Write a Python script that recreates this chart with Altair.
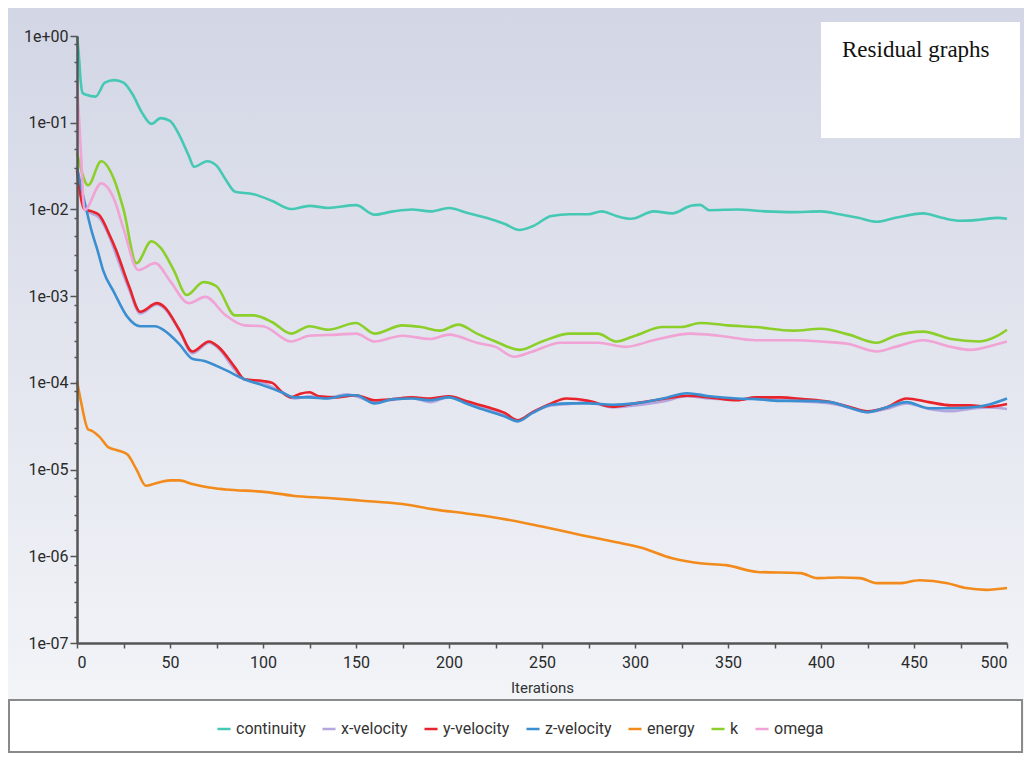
import altair as alt
import pandas as pd

# ---------------- data ----------------
series_names = ["continuity", "x-velocity", "y-velocity", "z-velocity", "energy", "k", "omega"]
series_colors = ["#45c8b4", "#b4a7e0", "#e8232b", "#3b8fd1", "#f28b1b", "#8ccf2a", "#f0a3d4"]

cont_it = [0, 1, 2, 3, 5, 10, 15, 20, 25, 30, 35, 40, 45, 50, 55, 60, 63, 70, 75, 80, 85, 95, 105, 115, 125,
           135, 150, 160, 170, 180, 190, 200, 210, 220, 230, 238, 245, 255, 265, 275, 282, 290, 298, 310, 320,
           330, 335, 340, 355, 370, 385, 400, 410, 420, 430, 440, 455, 465, 475, 485, 495, 500]
cont_v = [1.0, 0.6, 0.3, 0.22, 0.21, 0.2, 0.29, 0.31, 0.29, 0.21, 0.13, 0.097, 0.113, 0.105, 0.072,
          0.042, 0.031, 0.036, 0.032, 0.022, 0.016, 0.015, 0.0125, 0.0101, 0.011,
          0.0104, 0.0112, 0.0087, 0.0095, 0.010, 0.0095, 0.0104, 0.0091, 0.0080, 0.0068,
          0.0058, 0.0064, 0.0084, 0.0088, 0.0088, 0.0095, 0.0084, 0.0078, 0.0095, 0.0090,
          0.011, 0.0113, 0.0098, 0.010, 0.0095, 0.0093, 0.0095, 0.0088, 0.0080, 0.0072,
          0.0080, 0.0090, 0.0080, 0.0074, 0.0076, 0.0080, 0.0078]

xv_it = [0, 3, 6, 12, 18, 21, 28, 34, 43, 47, 55, 62, 71, 76, 85, 90, 100, 110, 117, 125, 135, 145, 150, 160,
         170, 180, 190, 200, 210, 220, 230, 237, 245, 255, 265, 275, 288, 300, 315, 328, 340, 355, 365, 378,
         390, 405, 415, 425, 435, 446, 458, 470, 480, 490, 500]
xv_v = [0.032, 0.013, 0.0095, 0.008, 0.0045, 0.003, 0.0012, 0.00063, 0.0008, 0.00072,
        0.0004, 0.00022, 0.00029, 0.00025, 0.00014, 0.00011, 0.0001, 0.000078, 0.000066, 0.00007,
        0.000067, 0.000074, 0.00007, 0.00006, 0.000064, 0.000067, 0.00006, 0.000069, 0.00006, 0.000051,
        0.000043, 0.000037, 0.000046, 0.000055, 0.000057, 0.00006, 0.000052, 0.000055, 0.000061, 0.00007,
        0.000066, 0.000064, 0.000066, 0.000063, 0.000061, 0.000058, 0.000052, 0.000046, 0.00005, 0.000058,
        0.00005, 0.000047, 0.00005, 0.000052, 0.00005]

yv_it = [0, 4, 8, 12, 18, 21, 28, 34, 43, 47, 55, 62, 71, 76, 85, 90, 100, 105, 110, 115, 120, 125, 130, 140,
         150, 160, 170, 180, 190, 200, 210, 220, 230, 237, 245, 255, 263, 275, 288, 300, 315, 328, 340, 355,
         365, 378, 390, 405, 415, 425, 435, 446, 458, 470, 480, 490, 500]
yv_v = [0.028, 0.010, 0.0095, 0.0086, 0.0048, 0.0034, 0.0013, 0.00066, 0.00083, 0.00075,
        0.00041, 0.00023, 0.0003, 0.00026, 0.00015, 0.00011, 0.000105, 0.0001, 0.000079, 0.000068,
        0.000075, 0.000078, 0.00007, 0.000068, 0.000072, 0.000063, 0.000065, 0.000068, 0.000066, 0.00007,
        0.000061, 0.000053, 0.000045, 0.000037, 0.000046, 0.000058, 0.000066, 0.000062, 0.000053, 0.000058,
        0.000065, 0.000071, 0.000068, 0.000063, 0.000068, 0.000068, 0.000065, 0.00006, 0.000053, 0.000047,
        0.000052, 0.000066, 0.00006, 0.000055, 0.000055, 0.000053, 0.000057]

zv_it = [0, 5, 8, 11, 14, 20, 27, 34, 42, 47, 55, 62, 68, 80, 90, 100, 110, 117, 125, 135, 145, 150, 160, 170,
         180, 190, 200, 210, 220, 230, 237, 245, 255, 265, 275, 288, 300, 315, 328, 340, 355, 365, 378, 390,
         405, 415, 425, 435, 446, 458, 470, 480, 490, 500]
zv_v = [0.03, 0.01, 0.0055, 0.0034, 0.002, 0.0011, 0.00058, 0.00045, 0.00045, 0.0004,
        0.00028, 0.00019, 0.00018, 0.00014, 0.00011, 0.0000935, 0.000078, 0.000068, 0.000068, 0.000066,
        0.000072, 0.000072, 0.000058, 0.000065, 0.000066, 0.000063, 0.000068, 0.000057, 0.000048, 0.000041,
        0.000036, 0.000045, 0.000056, 0.000058, 0.000058, 0.000056, 0.000058, 0.000066, 0.000076, 0.00007,
        0.000066, 0.000065, 0.000062, 0.000062, 0.00006, 0.000052, 0.000046, 0.000052, 0.00006, 0.000051,
        0.000051, 0.000052, 0.000056, 0.000066]

en_it = [0, 2, 6, 8, 12, 17, 22, 27, 32, 37, 42, 50, 55, 62, 71, 80, 102, 116, 135, 152, 175, 191, 210, 227,
         250, 272, 290, 303, 320, 335, 349, 366, 389, 398, 410, 421, 430, 442, 453, 468, 478, 489, 500]
en_v = [1.05e-4, 6.3e-5, 2.9e-5, 2.8e-5, 2.4e-5, 1.8e-5, 1.66e-5, 1.5e-5, 1.0e-5, 6.5e-6,
        6.9e-6, 7.5e-6, 7.5e-6, 6.8e-6, 6.2e-6, 5.9e-6, 5.5e-6, 5.0e-6, 4.7e-6, 4.4e-6,
        4.0e-6, 3.5e-6, 3.1e-6, 2.75e-6, 2.2e-6, 1.74e-6, 1.45e-6, 1.26e-6, 9.5e-7, 8.3e-7,
        7.9e-7, 6.6e-7, 6.4e-7, 5.6e-7, 5.7e-7, 5.6e-7, 4.9e-7, 4.9e-7, 5.3e-7, 4.9e-7,
        4.3e-7, 4.1e-7, 4.3e-7]

k_it = [0, 2, 6, 13, 20, 25, 32, 40, 45, 52, 59, 68, 75, 85, 95, 105, 115, 125, 135, 150, 160, 175, 185, 195,
        205, 215, 225, 238, 250, 265, 280, 290, 300, 315, 325, 335, 350, 365, 385, 400, 415, 430, 440, 455,
        470, 485, 495, 500]
k_v = [0.045, 0.03, 0.019, 0.036, 0.022, 0.010, 0.0024, 0.0043, 0.0036, 0.0020,
       0.00103, 0.00145, 0.0013, 0.0006, 0.0006, 0.0005, 0.00037, 0.00045, 0.00041, 0.00049,
       0.00037, 0.00046, 0.00044, 0.0004, 0.00047, 0.00037, 0.0003, 0.00024, 0.0003, 0.00037,
       0.00037, 0.0003, 0.00035, 0.00044, 0.00044, 0.00049, 0.00046, 0.00044, 0.0004, 0.00042,
       0.00036, 0.00029, 0.00035, 0.00039, 0.00032, 0.0003, 0.00035, 0.00041]

om_it = [0, 2, 4, 13, 20, 25, 33, 42, 50, 60, 69, 80, 90, 100, 115, 125, 140, 150, 160, 175, 190, 200, 215,
         225, 235, 245, 260, 280, 295, 310, 330, 345, 365, 385, 400, 415, 430, 440, 455, 470, 480, 495, 500]
om_v = [0.3, 0.05, 0.0098, 0.02, 0.013, 0.006, 0.002, 0.0024, 0.0015, 0.00083,
        0.00098, 0.0006, 0.00046, 0.00045, 0.0003, 0.00035, 0.00036, 0.00037, 0.0003, 0.00035,
        0.00032, 0.00036, 0.00029, 0.00026, 0.0002, 0.00023, 0.00029, 0.00029, 0.00026, 0.00031,
        0.00037, 0.00035, 0.00031, 0.00031, 0.0003, 0.00028, 0.00023, 0.00026, 0.00031, 0.00026,
        0.00024, 0.00028, 0.0003]

y_ticks = [m * 10.0 ** e for e in range(-7, 0) for m in (1, 2, 3, 5, 8)] + [1.0]
x_ticks = list(range(0, 501, 25))
box_title = "Residual graphs"

# ---------------- table ----------------
rows = []
for idx, (name, its, vals) in enumerate([
    ("continuity", cont_it, cont_v), ("x-velocity", xv_it, xv_v), ("y-velocity", yv_it, yv_v),
    ("z-velocity", zv_it, zv_v), ("energy", en_it, en_v), ("k", k_it, k_v), ("omega", om_it, om_v)]):
    assert len(its) == len(vals), name
    for i, v in zip(its, vals):
        rows.append({"series": name, "iter": i, "res": v, "ord": idx})
df = pd.DataFrame(rows)

W, H = 930, 607
PAD = {"left": 69, "top": 28, "right": 17, "bottom": 110}

one = alt.Data(values=[{"a": 1}])

grad = alt.Gradient(
    gradient="linear",
    stops=[alt.GradientStop(color="#d2d6e5", offset=0),
           alt.GradientStop(color="#e2e5ee", offset=0.45),
           alt.GradientStop(color="#f4f6f9", offset=1)],
    x1=0, x2=0, y1=0, y2=1)

bg = alt.Chart(one).mark_rect(fill=grad).encode(
    x=alt.value(-PAD["left"]), x2=alt.value(W + PAD["right"]),
    y=alt.value(-PAD["top"]), y2=alt.value(H + PAD["bottom"]))

legend_box = alt.Chart(one).mark_rect(fill="white", stroke="#8a8a8a", strokeWidth=2).encode(
    x=alt.value(-68), x2=alt.value(945), y=alt.value(664), y2=alt.value(716))

title_box = alt.Chart(one).mark_rect(fill="white").encode(
    x=alt.value(744), x2=alt.value(943), y=alt.value(-14), y2=alt.value(102))

title_text = alt.Chart(alt.Data(values=[{"t": box_title}])).mark_text(
    align="left", baseline="alphabetic", font="Liberation Serif", fontSize=23, color="#111").encode(
    x=alt.value(765), y=alt.value(21), text="t:N")

is_decade = "abs(log(datum.value)/LN10 - round(log(datum.value)/LN10)) < 0.001"
exp_str = ("'1e' + (datum.value >= 1 ? '+' : '-') + "
           "(abs(round(log(datum.value)/LN10)) < 10 ? '0' : '') + abs(round(log(datum.value)/LN10))")

lines = alt.Chart(df).mark_line(strokeWidth=2.6, interpolate="monotone").encode(
    x=alt.X("iter:Q",
            scale=alt.Scale(domain=[0, 500], nice=False, zero=False),
            axis=alt.Axis(values=x_ticks, labelExpr="datum.value % 50 == 0 ? datum.label : ''",
                          title="Iterations", grid=False, tickSize=5, tickColor="#555", tickWidth=1.5,
                          domainColor="#555", domainWidth=2.5, labelFont="Roboto", labelFontSize=16,
                          labelColor="#2a2a2a", labelPadding=6, titleFont="Roboto", titleFontSize=15,
                          titleFontWeight="normal", titleColor="#333", titlePadding=10, zindex=1)),
    y=alt.Y("res:Q",
            scale=alt.Scale(type="log", domain=[1e-7, 1], nice=False),
            axis=alt.Axis(values=y_ticks, labelExpr=is_decade + " ? (" + exp_str + ") : ''",
                          title=None, grid=False,
                          tickSize={"condition": {"test": is_decade, "value": 7}, "value": 3},
                          tickColor="#555", tickWidth=1.5, domainColor="#555", domainWidth=2.5,
                          labelFont="Roboto", labelFontSize=16, labelColor="#2a2a2a", labelPadding=2,
                          labelFlush=False, labelOverlap=False, zindex=1)),
    color=alt.Color("series:N",
                    scale=alt.Scale(domain=series_names, range=series_colors),
                    legend=alt.Legend(orient="none", legendX=139, legendY=685, direction="horizontal",
                                      title=None, symbolType="stroke", symbolStrokeWidth=2.5,
                                      symbolSize=170, labelFont="Roboto", labelFontSize=16,
                                      labelColor="#333", columnPadding=11, labelOffset=4, padding=0,
                                      zindex=2)),
    order=alt.Order("ord:Q"),
)

chart = alt.layer(bg, legend_box, title_box, lines, title_text).properties(
    width=W, height=H,
    autosize=alt.AutoSizeParams(type="none"),
    padding=PAD,
    background="#f4f6f9",
).configure_view(stroke=None)

chart.save("out.html", embed_options={"renderer": "svg", "actions": False})
